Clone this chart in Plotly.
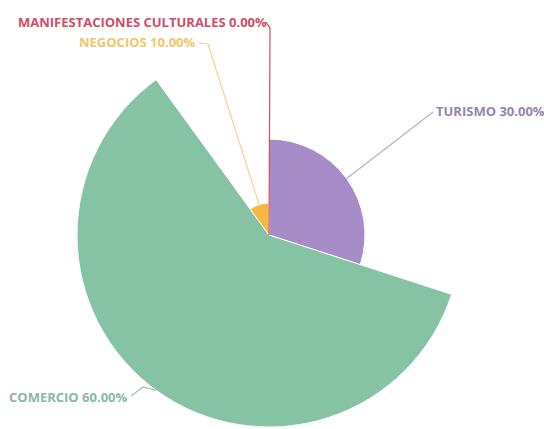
import math
import plotly.graph_objects as go

# Share of activities (percent)
categories = ["TURISMO", "COMERCIO", "NEGOCIOS", "MANIFESTACIONES CULTURALES"]
values = [30.0, 60.0, 10.0, 0.0]
colors = ["#a88cc8", "#86c3a5", "#f4b942", "#d24a64"]
label_colors = ["#9484ad", "#8db6a6", "#efc76a", "#cf4d66"]
line_colors = ["#b9b0c6", "#9fc4b4", "#f1d48e", "#cf4d66"]

W, H = 544, 429
CX, CY, R = 269, 235, 192  # pie centre and outer radius in pixels
vmax = max(values)

# angular extent of each slice (clockwise from 12 o'clock)
total = sum(values)
widths = [v / total * 360 for v in values]
starts = []
acc = 0.0
for w in widths:
    starts.append(acc)
    acc += w
mids = [s + w / 2 for s, w in zip(starts, widths)]

fig = go.Figure()
fig.add_trace(go.Barpolar(
    r=values,
    theta=mids,
    width=widths,
    marker=dict(color=colors, line=dict(color="white", width=1)),
    hoverinfo="skip",
))

x0 = (CX - R) / W
x1 = (CX + R) / W
y0 = (H - CY - R) / H
y1 = (H - CY + R) / H

fig.update_layout(
    width=W, height=H,
    margin=dict(l=0, r=0, t=0, b=0),
    paper_bgcolor="white",
    plot_bgcolor="white",
    showlegend=False,
    polar=dict(
        domain=dict(x=[x0, x1], y=[y0, y1]),
        bgcolor="rgba(0,0,0,0)",
        radialaxis=dict(range=[0, vmax], visible=False),
        angularaxis=dict(direction="clockwise", rotation=90, visible=False),
        hole=0,
    ),
)


def edge_point(theta_deg, val):
    rad = math.radians(theta_deg)
    px = CX + math.sin(rad) * val / vmax * R
    py = CY - math.cos(rad) * val / vmax * R
    return px, py


# leader-line elbows, line ends and label anchors (pixels)
label_layout = [
    dict(elbow=(433, 112), end=(433, 112), text_xy=(434, 111), anchor="left"),
    dict(elbow=(143, 387), end=(131, 396), text_xy=(130, 397), anchor="right"),
    dict(elbow=(208, 44), end=(199, 43), text_xy=(198, 42), anchor="right"),
    dict(elbow=(270, 28), end=(266, 22), text_xy=(269, 22), anchor="right"),
]

for i, cat in enumerate(categories):
    lay = label_layout[i]
    if values[i] > 0:
        sx, sy = edge_point(mids[i], values[i])
    else:
        sx, sy = edge_point(starts[i] % 360, 0)
    pts = [(sx, sy), lay["elbow"], lay["end"]]
    path = "M " + " L ".join(f"{px / W},{1 - py / H}" for px, py in pts)
    fig.add_shape(type="path", path=path, xref="paper", yref="paper",
                  line=dict(color=line_colors[i], width=1.2))
    tx, ty = lay["text_xy"]
    fig.add_annotation(
        x=tx / W, y=1 - ty / H, xref="paper", yref="paper",
        text=f"<b>{cat} {values[i]:.2f}%</b>",
        showarrow=False,
        xanchor=lay["anchor"], yanchor="middle",
        font=dict(family="Open Sans", size=13, color=label_colors[i]),
    )

fig.write_html("out.html")
